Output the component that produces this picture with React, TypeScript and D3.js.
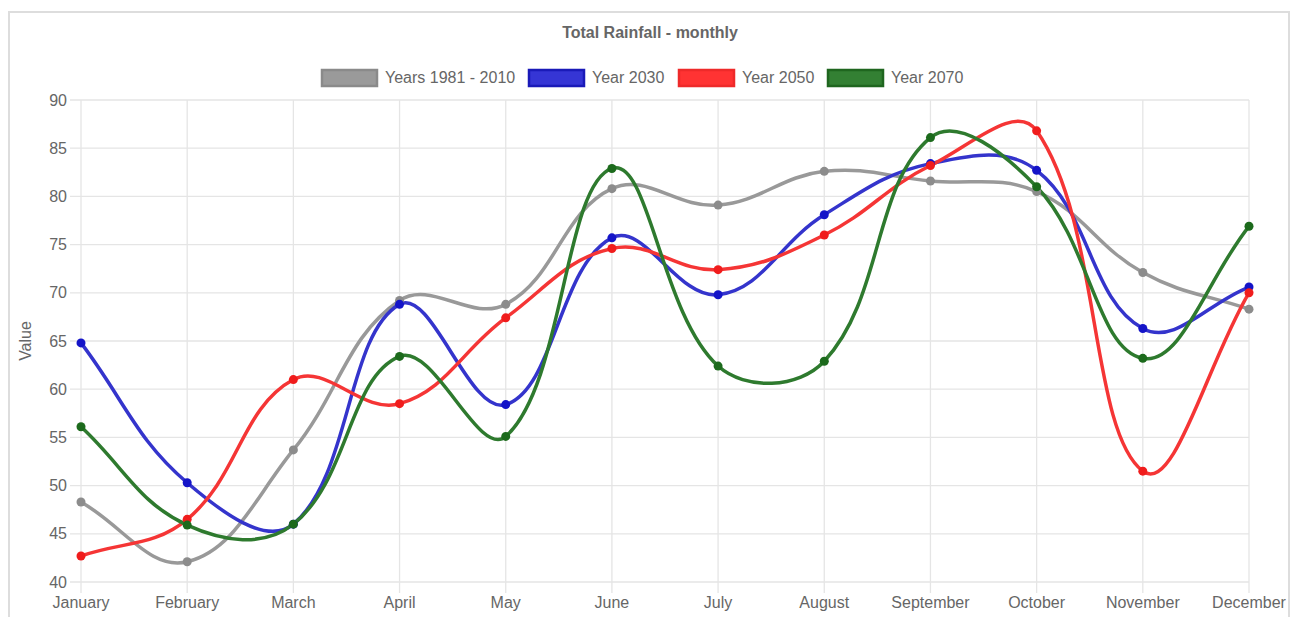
import React, { useEffect, useRef } from "react";
import * as d3 from "d3";

const months = [
  "January", "February", "March", "April", "May", "June",
  "July", "August", "September", "October", "November", "December",
];
const baseline = [48.3, 42.1, 53.7, 69.2, 68.8, 80.8, 79.1, 82.6, 81.6, 80.5, 72.1, 68.3];
const year2030 = [64.8, 50.3, 46.0, 68.8, 58.4, 75.7, 69.8, 78.1, 83.4, 82.7, 66.3, 70.6];
const year2050 = [42.7, 46.5, 61.0, 58.5, 67.4, 74.6, 72.4, 76.0, 83.2, 86.8, 51.5, 70.0];
const year2070 = [56.1, 45.9, 46.0, 63.4, 55.1, 82.9, 62.4, 62.9, 86.1, 81.0, 63.2, 76.9];
const yTicks = [40, 45, 50, 55, 60, 65, 70, 75, 80, 85, 90];

const seriesList = [
  { name: "Years 1981 - 2010", values: baseline, line: "#999999", point: "#8c8c8c", fill: "#9a9a9a", border: "#8a8a8a" },
  { name: "Year 2030", values: year2030, line: "#3434cc", point: "#1414c8", fill: "#3535d5", border: "#1a1ab8" },
  { name: "Year 2050", values: year2050, line: "#f53535", point: "#f01c1c", fill: "#ff3333", border: "#ee2a2a" },
  { name: "Year 2070", values: year2070, line: "#2e7a2e", point: "#1c6a1c", fill: "#338033", border: "#1f661f" },
];

const W = 1299;
const H = 617;
const FONT = "'Liberation Sans', Arial, Helvetica, sans-serif";
const plot = { left: 81, right: 1249, top: 100, bottom: 582 };

// Cubic spline path with tension, control points derived from neighbouring points
function splinePath(pts: [number, number][], tension: number, yMin: number, yMax: number) {
  const p = d3.path();
  const n = pts.length;
  const cps = pts.map((cur, i) => {
    const prev = pts[Math.max(0, i - 1)];
    const next = pts[Math.min(n - 1, i + 1)];
    const d01 = Math.hypot(cur[0] - prev[0], cur[1] - prev[1]);
    const d12 = Math.hypot(next[0] - cur[0], next[1] - cur[1]);
    let s01 = d01 / (d01 + d12 || 1);
    let s12 = d12 / (d01 + d12 || 1);
    const fa = tension * s01;
    const fb = tension * s12;
    const clamp = (v: number) => Math.max(yMin, Math.min(yMax, v));
    return {
      prev: [cur[0] - fa * (next[0] - prev[0]), clamp(cur[1] - fa * (next[1] - prev[1]))],
      next: [cur[0] + fb * (next[0] - prev[0]), clamp(cur[1] + fb * (next[1] - prev[1]))],
    };
  });
  p.moveTo(pts[0][0], pts[0][1]);
  for (let i = 1; i < n; i++) {
    const a = cps[i - 1].next;
    const b = cps[i].prev;
    p.bezierCurveTo(a[0], a[1], b[0], b[1], pts[i][0], pts[i][1]);
  }
  return p.toString();
}

export default function App() {
  const ref = useRef<SVGSVGElement>(null);

  useEffect(() => {
    const svg = d3.select(ref.current);
    svg.selectAll("*").remove();

    const x = d3.scalePoint<string>().domain(months).range([plot.left, plot.right]);
    const y = d3.scaleLinear().domain([40, 90]).range([plot.bottom, plot.top]);

    // frame
    svg.append("rect")
      .attr("x", 9).attr("y", 12).attr("width", 1280).attr("height", 640)
      .attr("fill", "#fff").attr("stroke", "#dddddd").attr("stroke-width", 2);

    // title
    svg.append("text")
      .attr("x", 650).attr("y", 38).attr("text-anchor", "middle")
      .attr("font-family", FONT).attr("font-size", 16).attr("font-weight", "bold")
      .attr("fill", "#666").text("Total Rainfall - monthly");

    // legend
    const legendX = [321, 528, 678, 827];
    seriesList.forEach((s, i) => {
      const g = svg.append("g").attr("transform", `translate(${legendX[i]},69)`);
      g.append("rect").attr("x", 1).attr("y", 1).attr("width", 55).attr("height", 16)
        .attr("fill", s.fill).attr("stroke", s.border).attr("stroke-width", 2.5);
      g.append("text").attr("x", 64).attr("y", 14)
        .attr("font-family", FONT).attr("font-size", 16).attr("fill", "#666").text(s.name);
    });

    // grid
    const grid = svg.append("g");
    yTicks.forEach((t) => {
      grid.append("line")
        .attr("x1", plot.left - 11).attr("x2", plot.right)
        .attr("y1", y(t)).attr("y2", y(t))
        .attr("stroke", "#e5e5e5").attr("stroke-width", 1.3);
      svg.append("text")
        .attr("x", 67).attr("y", y(t) + 5.5).attr("text-anchor", "end")
        .attr("font-family", FONT).attr("font-size", 16).attr("fill", "#666").text(t);
    });
    months.forEach((m) => {
      grid.append("line")
        .attr("x1", x(m)!).attr("x2", x(m)!)
        .attr("y1", plot.top).attr("y2", plot.bottom + 11)
        .attr("stroke", "#e5e5e5").attr("stroke-width", 1.3);
      svg.append("text")
        .attr("x", x(m)!).attr("y", 608).attr("text-anchor", "middle")
        .attr("font-family", FONT).attr("font-size", 16).attr("fill", "#666").text(m);
    });

    // axis title
    svg.append("text")
      .attr("transform", `translate(31,${(plot.top + plot.bottom) / 2}) rotate(-90)`)
      .attr("text-anchor", "middle")
      .attr("font-family", FONT).attr("font-size", 16).attr("fill", "#666").text("Value");

    // series
    seriesList.forEach((s) => {
      const pts: [number, number][] = s.values.map((v, i) => [x(months[i])!, y(v)]);
      svg.append("path")
        .attr("d", splinePath(pts, 0.4, plot.top, plot.bottom))
        .attr("fill", "none").attr("stroke", s.line).attr("stroke-width", 3.5);
    });
    seriesList.forEach((s) => {
      svg.append("g").selectAll("circle").data(s.values).join("circle")
        .attr("cx", (_, i) => x(months[i])!)
        .attr("cy", (v) => y(v))
        .attr("r", 4.5)
        .attr("fill", s.point);
    });
  }, []);

  return (
    <svg
      ref={ref}
      width={W}
      height={H}
      style={{ position: "absolute", left: 0, top: 0, background: "#fff" }}
    />
  );
}
